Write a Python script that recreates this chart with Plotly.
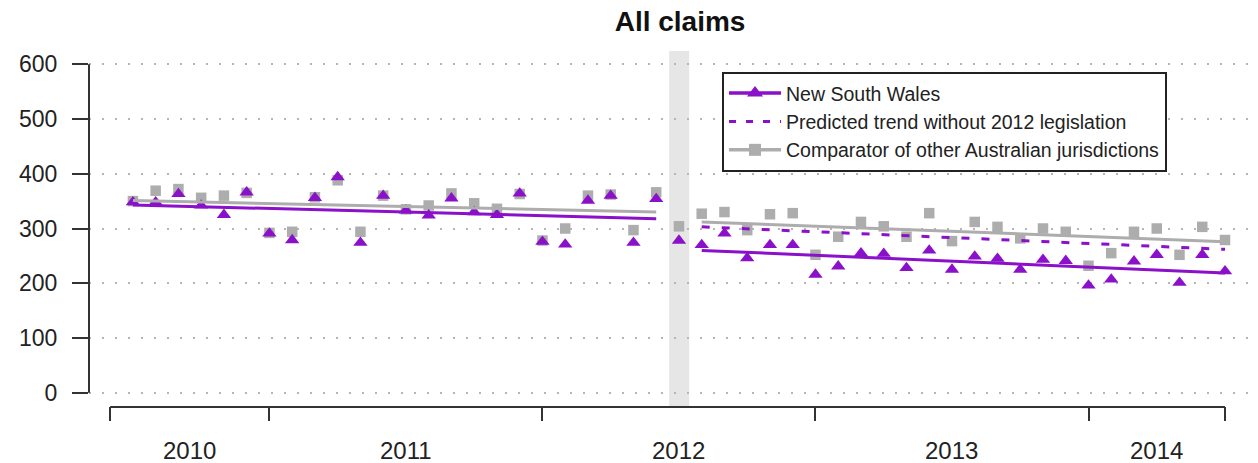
import plotly.graph_objects as go

# Monthly claims, July 2010 (month 1) to July 2014 (month 49)
months = list(range(1, 50))

nsw_claims = [348, 348, 363, 342, 325, 366, 291, 279, 356, 394, 274, 360,
              333, 324, 355, 330, 325, 364, 276, 271, 351, 360, 274, 354,
              278,
              270, 291, 246, 270, 270, 216, 231, 255, 254, 228, 260, 225,
              249, 245, 225, 243, 241, 196, 207, 240, 252, 201, 252, 222]

comparator_claims = [350, 369, 372, 356, 360, 365, 292, 294, 357, 388, 294, 360,
                     335, 342, 364, 346, 336, 363, 278, 300, 360, 362, 297, 366,
                     304,
                     327, 330, 297, 326, 328, 252, 285, 312, 304, 285, 328, 277,
                     312, 303, 282, 300, 294, 232, 255, 294, 300, 252, 303, 279]

# Segmented trend lines (before / after the July 2012 legislation)
pre_months = [1, 24]
post_months = [26, 49]
nsw_pre_trend = [343, 318]
nsw_post_trend = [260, 219]
comparator_pre_trend = [351, 330]
comparator_post_trend = [312, 276]
predicted_trend = [303, 262]

legislation_month = 25

year_ticks = [0, 7, 19, 31, 43, 49]
year_label_pos = [3.5, 13, 25, 37, 46]
year_labels = ["2010", "2011", "2012", "2013", "2014"]
y_ticks = [0, 100, 200, 300, 400, 500, 600]

PURPLE = "#8B10C9"
GREY = "#ADADAD"
AXIS = "#333333"
FONT = "Liberation Sans, Arial, sans-serif"

fig = go.Figure()

fig.add_trace(go.Scatter(x=months, y=comparator_claims, mode="markers",
                         marker=dict(symbol="square", size=10.5, color=GREY),
                         showlegend=False, hoverinfo="skip"))
fig.add_trace(go.Scatter(x=months, y=nsw_claims, mode="markers",
                         marker=dict(symbol="triangle-up", size=12.5, color=PURPLE),
                         showlegend=False, hoverinfo="skip"))

for xs, ys in [(pre_months, comparator_pre_trend), (post_months, comparator_post_trend)]:
    fig.add_trace(go.Scatter(x=xs, y=ys, mode="lines",
                             line=dict(color=GREY, width=3),
                             showlegend=False, hoverinfo="skip"))
for xs, ys in [(pre_months, nsw_pre_trend), (post_months, nsw_post_trend)]:
    fig.add_trace(go.Scatter(x=xs, y=ys, mode="lines",
                             line=dict(color=PURPLE, width=3),
                             showlegend=False, hoverinfo="skip"))
fig.add_trace(go.Scatter(x=post_months, y=predicted_trend, mode="lines",
                         line=dict(color=PURPLE, width=3, dash="8px,12px"),
                         showlegend=False, hoverinfo="skip"))

# Legend entries
fig.add_trace(go.Scatter(x=[None], y=[None], mode="lines+markers",
                         name="New South Wales",
                         line=dict(color=PURPLE, width=3.5),
                         marker=dict(symbol="triangle-up", size=14, color=PURPLE)))
fig.add_trace(go.Scatter(x=[None], y=[None], mode="lines",
                         name="Predicted trend without 2012 legislation",
                         line=dict(color=PURPLE, width=3, dash="7px,10px")))
fig.add_trace(go.Scatter(x=[None], y=[None], mode="lines+markers",
                         name="Comparator of other Australian jurisdictions",
                         line=dict(color=GREY, width=3.5),
                         marker=dict(symbol="square", size=12, color=GREY)))

shapes = [
    # legislation month band
    dict(type="rect", xref="x", yref="paper",
         x0=legislation_month - 0.43, x1=legislation_month + 0.45, y0=0, y1=1,
         fillcolor="#E6E6E6", line=dict(width=0), layer="below"),
    # axis lines spanning only the tick range
    dict(type="line", xref="x", yref="paper", x0=year_ticks[0], x1=year_ticks[-1],
         y0=-0.003, y1=-0.003, line=dict(color=AXIS, width=2)),
    dict(type="line", xref="paper", yref="y", x0=0, x1=0,
         y0=y_ticks[0], y1=y_ticks[-1], line=dict(color=AXIS, width=2)),
]

annotations = [
    dict(x=xp, y=-0.124, xref="x", yref="paper", text=lab, showarrow=False,
         xanchor="center", yanchor="middle",
         font=dict(family=FONT, size=24, color="#222222"))
    for xp, lab in zip(year_label_pos, year_labels)
]

fig.update_layout(
    width=1258, height=463,
    margin=dict(l=89, r=0, t=51, b=57),
    paper_bgcolor="white", plot_bgcolor="white",
    font=dict(family=FONT, color="#222222"),
    title=dict(text="All claims", x=0.5056, xref="paper", y=1 - 21 / 463,
               yref="container", xanchor="center", yanchor="middle",
               font=dict(family=FONT, size=28, color="#111111", weight="bold")),
    xaxis=dict(range=[-0.93, 50.45], tickvals=year_ticks,
               ticktext=[""] * len(year_ticks), ticks="outside", ticklen=14,
               tickwidth=2, tickcolor=AXIS, showgrid=False, zeroline=False,
               showline=False, fixedrange=True),
    yaxis=dict(range=[-24, 624], tickvals=y_ticks, ticks="outside", ticklen=16,
               tickwidth=2, tickcolor=AXIS, showgrid=True, gridcolor="#B5B5B5",
               griddash="2px,11px", gridwidth=2, zeroline=False, showline=False,
               tickfont=dict(family=FONT, size=23, color="#222222"),
               ticklabelstandoff=10, fixedrange=True),
    legend=dict(x=0.5415, y=0.941, xanchor="left", yanchor="top",
                bgcolor="white", bordercolor="#222222", borderwidth=2,
                font=dict(family=FONT, size=19.5, color="#222222"),
                itemwidth=52, tracegroupgap=0),
    shapes=shapes,
    annotations=annotations,
)

fig.write_html("out.html")
